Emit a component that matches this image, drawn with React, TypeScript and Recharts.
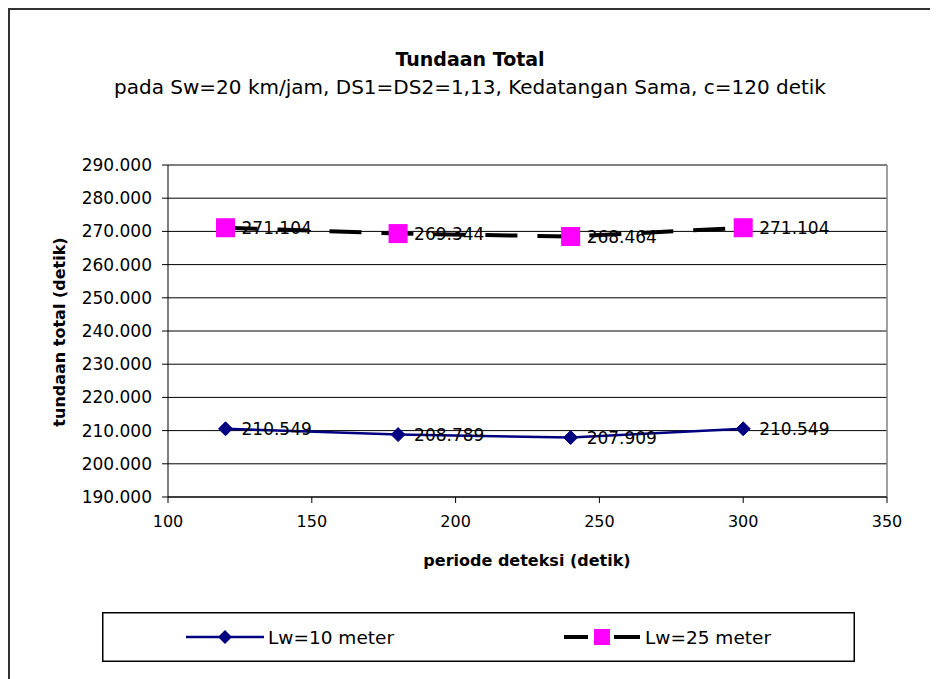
import React from 'react';
import {
  LineChart,
  Line,
  XAxis,
  YAxis,
  CartesianGrid,
  Legend,
  LabelList,
  ReferenceLine,
} from 'recharts';

// ---- data ----
const periods = [120, 180, 240, 300];
const lw10Values = [210.549, 208.789, 207.909, 210.549];
const lw25Values = [271.104, 269.344, 268.464, 271.104];
const xTicks = [100, 150, 200, 250, 300, 350];
const yTicks = [190, 200, 210, 220, 230, 240, 250, 260, 270, 280, 290];
const seriesNames: Record<string, string> = {
  lw10: 'Lw=10 meter',
  lw25: 'Lw=25 meter',
};
const titleText = 'Tundaan Total';
const subtitleText = 'pada Sw=20 km/jam, DS1=DS2=1,13, Kedatangan Sama, c=120 detik';
const xLabelText = 'periode deteksi (detik)';
const yLabelText = 'tundaan total (detik)';

const data = periods.map((p, i) => ({ periode: p, lw10: lw10Values[i], lw25: lw25Values[i] }));

const FONT = '"DejaVu Sans", sans-serif';
const NAVY = '#000080';
const MAGENTA = '#FF00FF';

const Diamond = (props: any) => {
  const { cx, cy, index } = props;
  if (cx == null || cy == null) return <g key={`d-${index}`} />;
  const r = 7;
  return (
    <polygon
      key={`d-${index}`}
      points={`${cx},${cy - r} ${cx + r},${cy} ${cx},${cy + r} ${cx - r},${cy}`}
      fill={NAVY}
      stroke={NAVY}
      strokeWidth={1}
    />
  );
};

const Square = (props: any) => {
  const { cx, cy, index } = props;
  if (cx == null || cy == null) return <g key={`s-${index}`} />;
  const h = 9.5;
  return <rect key={`s-${index}`} x={cx - h} y={cy - h} width={2 * h} height={2 * h} fill={MAGENTA} />;
};

const renderValueLabel = (props: any) => {
  const { x, y, value, index } = props;
  return (
    <text
      key={`l-${index}`}
      x={Number(x) + 16}
      y={Number(y)}
      dy="0.36em"
      fontSize={17}
      fontFamily={FONT}
      fill="#000"
      textAnchor="start"
    >
      {Number(value).toFixed(3)}
    </text>
  );
};

const renderLegend = (props: any) => {
  const payload: any[] = props.payload || [];
  const nameOf = (key: string) => {
    const item = payload.find((p) => p.dataKey === key);
    return item ? item.value : seriesNames[key];
  };
  const cy = 25;
  return (
    <svg width={753} height={50} style={{ display: 'block' }}>
      <rect x={0.75} y={0.75} width={751.5} height={48.5} fill="#fff" stroke="#000" strokeWidth={1.5} />
      <line x1={84} y1={cy} x2={162} y2={cy} stroke={NAVY} strokeWidth={2.5} />
      <polygon points={`123,${cy - 7} 130,${cy} 123,${cy + 7} 116,${cy}`} fill={NAVY} />
      <text x={166} y={cy} dy="0.36em" fontSize={18.5} fontFamily={FONT} fill="#000">
        {nameOf('lw10')}
      </text>
      <line x1={462} y1={cy} x2={486} y2={cy} stroke="#000" strokeWidth={4} />
      <line x1={512} y1={cy} x2={538} y2={cy} stroke="#000" strokeWidth={4} />
      <rect x={492} y={cy - 8} width={16} height={16} fill={MAGENTA} />
      <text x={543} y={cy} dy="0.36em" fontSize={18.5} fontFamily={FONT} fill="#000">
        {nameOf('lw25')}
      </text>
    </svg>
  );
};

export default function App() {
  return (
    <div
      style={{
        position: 'relative',
        width: 928,
        height: 669,
        borderTop: '2px solid #333',
        borderLeft: '2px solid #333',
        fontFamily: FONT,
        background: '#fff',
        overflow: 'hidden',
      }}
    >
      <LineChart
        width={928}
        height={669}
        data={data}
        margin={{ top: 155, right: 51, left: 58, bottom: 152 }}
        style={{ fontFamily: FONT }}
      >
        <CartesianGrid horizontal vertical={false} stroke="#000" strokeWidth={1} />
        <XAxis
          dataKey="periode"
          type="number"
          domain={[100, 350]}
          ticks={xTicks}
          interval={0}
          height={30}
          tickSize={6}
          tickMargin={13}
          stroke="#000"
          axisLine={{ stroke: '#000', strokeWidth: 1 }}
          tickLine={{ stroke: '#000' }}
          tick={{ fill: '#000', fontSize: 16, fontFamily: FONT }}
        />
        <YAxis
          type="number"
          domain={[190, 290]}
          ticks={yTicks}
          interval={0}
          width={100}
          tickSize={6}
          tickMargin={10}
          stroke="#000"
          axisLine={{ stroke: '#000', strokeWidth: 1 }}
          tickLine={{ stroke: '#000' }}
          tick={{ fill: '#000', fontSize: 17, fontFamily: FONT }}
          tickFormatter={(v: number) => v.toFixed(3)}
        />
        <ReferenceLine x={350} stroke="#808080" strokeWidth={1.5} ifOverflow="visible" />
        <Line
          type="linear"
          dataKey="lw10"
          name={seriesNames.lw10}
          stroke={NAVY}
          strokeWidth={2.5}
          dot={Diamond}
          activeDot={false}
          isAnimationActive={false}
        >
          <LabelList dataKey="lw10" content={renderValueLabel} />
        </Line>
        <Line
          type="linear"
          dataKey="lw25"
          name={seriesNames.lw25}
          stroke="#000"
          strokeWidth={4}
          strokeDasharray="32 20"
          dot={Square}
          activeDot={false}
          isAnimationActive={false}
        >
          <LabelList dataKey="lw25" content={renderValueLabel} />
        </Line>
        <Legend
          layout="horizontal"
          verticalAlign="middle"
          align="center"
          content={renderLegend}
          wrapperStyle={{ position: 'absolute', left: 92, top: 602, width: 753, height: 50 }}
        />
      </LineChart>

      <div
        style={{
          position: 'absolute',
          left: 160,
          top: 40,
          width: 600,
          textAlign: 'center',
          fontSize: 19,
          lineHeight: '19px',
          fontWeight: 'bold',
          whiteSpace: 'nowrap',
          color: '#000',
        }}
      >
        {titleText}
      </div>
      <div
        style={{
          position: 'absolute',
          left: 60,
          top: 67,
          width: 800,
          textAlign: 'center',
          fontSize: 20,
          lineHeight: '20px',
          whiteSpace: 'nowrap',
          color: '#000',
        }}
      >
        {subtitleText}
      </div>
      <div
        style={{
          position: 'absolute',
          left: 317,
          top: 543,
          width: 400,
          textAlign: 'center',
          fontSize: 16,
          lineHeight: '16px',
          fontWeight: 'bold',
          whiteSpace: 'nowrap',
          color: '#000',
        }}
      >
        {xLabelText}
      </div>
      <div
        style={{
          position: 'absolute',
          left: 49.5 - 150,
          top: 322 - 10,
          width: 300,
          height: 20,
          textAlign: 'center',
          fontSize: 16,
          lineHeight: '20px',
          fontWeight: 'bold',
          whiteSpace: 'nowrap',
          color: '#000',
          transform: 'rotate(-90deg)',
          transformOrigin: '50% 50%',
        }}
      >
        {yLabelText}
      </div>
    </div>
  );
}
